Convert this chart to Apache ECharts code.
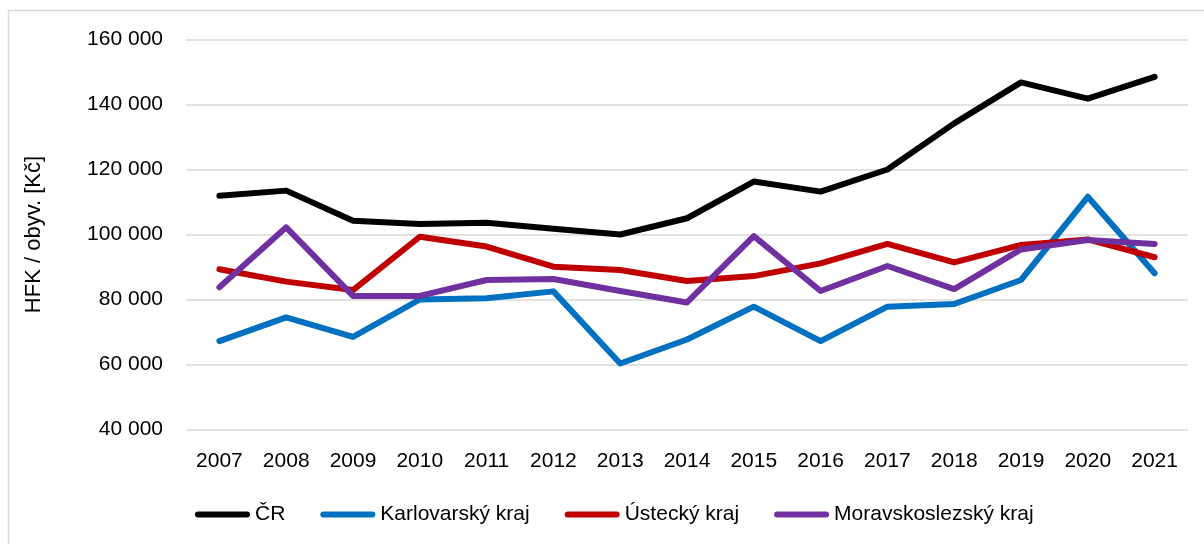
<!DOCTYPE html>
<html>
<head>
<meta charset="utf-8">
<script src="https://cdn.jsdelivr.net/npm/echarts@6/dist/echarts.min.js"></script>
<style>
html,body{margin:0;padding:0;background:#fff;}
#chart{width:1204px;height:544px;}
</style>
</head>
<body>
<div id="chart"></div>
<script>
const years = ['2007','2008','2009','2010','2011','2012','2013','2014','2015','2016','2017','2018','2019','2020','2021'];
const seriesNames = ['ČR','Karlovarský kraj','Ústecký kraj','Moravskoslezský kraj'];
const cr = [111900, 113500, 104200, 103200, 103600, 101800, 100000, 105000, 116300, 113200, 120000, 134200, 146800, 141800, 148500];
const karlovarsky = [67200, 74500, 68500, 80000, 80400, 82500, 60300, 67700, 77800, 67200, 77800, 78600, 86000, 111600, 88100];
const ustecky = [89300, 85500, 82900, 99300, 96300, 90100, 89100, 85700, 87200, 91100, 97100, 91400, 96800, 98500, 93000];
const moravskoslezsky = [83800, 102200, 81100, 81100, 86000, 86300, 82600, 79100, 99500, 82600, 90300, 83200, 95400, 98300, 97100];
const yAxisTitle = 'HFK / obyv. [Kč]';

const colors = ['#000000', '#0070C0', '#C00000', '#7030A0'];
const dataSets = [cr, karlovarsky, ustecky, moravskoslezsky];
const FONT = '"Liberation Sans", Arial, sans-serif';

function fmt(v) {
  return String(v).replace(/\B(?=(\d{3})+(?!\d))/g, ' ');
}

const chart = echarts.init(document.getElementById('chart'), null, {renderer: 'canvas'});
chart.setOption({
  animation: false,
  backgroundColor: '#ffffff',
  color: colors,
  textStyle: {fontFamily: FONT},
  graphic: [{
    type: 'rect',
    shape: {x: 8.5, y: 10.5, width: 1200, height: 540},
    style: {fill: 'none', stroke: '#d9d9d9', lineWidth: 1.5},
    silent: true, z: -1
  }],
  grid: {left: 186, right: 16, top: 39.5, bottom: 114.5, containLabel: false},
  legend: {
    left: 190, top: 499,
    itemWidth: 55, itemHeight: 6,
    itemGap: 35,
    icon: 'path://M3,0 L52,0 A3,3 0 0 1 52,6 L3,6 A3,3 0 0 1 3,0 Z',
    textStyle: {fontFamily: FONT, fontSize: 21, color: '#000'},
    data: seriesNames
  },
  xAxis: {
    type: 'category',
    data: years,
    boundaryGap: true,
    axisLine: {show: false},
    axisTick: {show: false},
    axisLabel: {fontFamily: FONT, fontSize: 21, color: '#000', margin: 21}
  },
  yAxis: {
    type: 'value',
    min: 40000, max: 160000, interval: 20000,
    name: yAxisTitle,
    nameLocation: 'middle',
    nameGap: 141,
    nameTextStyle: {fontFamily: FONT, fontSize: 22, color: '#000'},
    axisLine: {show: false},
    axisTick: {show: false},
    axisLabel: {fontFamily: FONT, fontSize: 21, color: '#000', margin: 23, formatter: fmt},
    splitLine: {lineStyle: {color: '#d9d9d9', width: 1.5}}
  },
  series: seriesNames.map((n, i) => ({
    name: n,
    type: 'line',
    data: dataSets[i],
    showSymbol: false,
    symbol: 'none',
    lineStyle: {width: 6, color: colors[i], cap: 'round', join: 'round'},
    itemStyle: {color: colors[i]}
  }))
});
</script>
</body>
</html>
